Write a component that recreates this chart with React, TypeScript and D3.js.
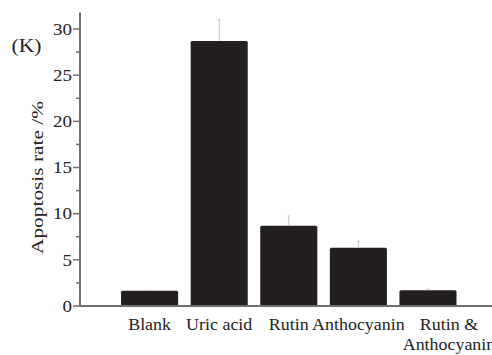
import React from "react"
import * as d3 from "d3"

// values
const categories = ["Blank", "Uric acid", "Rutin", "Anthocyanin", "Rutin &\nAnthocyanin"];
const rates = [1.66, 28.7, 8.7, 6.32, 1.7];
const errors = [0.05, 2.3, 1.05, 0.7, 0.12];
const yTicks = [0, 5, 10, 15, 20, 25, 30];
const yMinorTicks = [2.5, 7.5, 12.5, 17.5, 22.5, 27.5];

const WIDTH = 492, HEIGHT = 355;
const FONT = "'Liberation Serif', 'Times New Roman', serif";
const BAR = "#231f20";
const AXIS = "#6f6f6f";

export default function App() {
	const xScale = d3.scaleLinear().domain([0, 5.92]).range([80, 492]);
	const yScale = d3.scaleLinear().domain([0, 31.8]).range([306, 12.4]);
	const barW = xScale(0.82) - xScale(0);
	const x0 = xScale(0), y0 = yScale(0);

	return (
		<svg width={WIDTH} height={HEIGHT} style={{ position: "absolute", left: 0, top: 0, background: "#fff" }}
			fontFamily={FONT} fill="#222">
			{/* bars */}
			<g className="bars">
				{rates.map((v, i) => (
					<rect key={i} x={xScale(i + 1) - barW / 2} y={yScale(v)} width={barW} height={y0 - yScale(v)}
						rx={1.5} fill={BAR} />
				))}
			</g>
			{/* error bars */}
			<g className="errors" stroke="#c4c4c4" strokeWidth={1}>
				{rates.map((v, i) => {
					const cx = xScale(i + 1), top = yScale(v + errors[i]);
					return (
						<g key={i}>
							<line x1={cx} x2={cx} y1={yScale(v)} y2={top} />
							<line x1={cx - 1.5} x2={cx + 1.5} y1={top} y2={top} />
						</g>
					);
				})}
			</g>
			{/* axes */}
			<g className="y axis" stroke={AXIS}>
				<line x1={x0} x2={x0} y1={yScale.range()[1]} y2={y0 + 1} strokeWidth={2} />
				{yTicks.map(t => <line key={t} x1={x0 - 7} x2={x0} y1={yScale(t)} y2={yScale(t)} strokeWidth={1.5} />)}
				{yMinorTicks.map(t => <line key={t} x1={x0 - 4} x2={x0} y1={yScale(t)} y2={yScale(t)} strokeWidth={1.5} />)}
			</g>
			<line className="x axis" x1={x0 - 1} x2={WIDTH} y1={y0} y2={y0} stroke={AXIS} strokeWidth={2} />
			{yTicks.map(t => (
				<text key={t} transform={`translate(72, ${yScale(t) + 5.8}) scale(1.15, 1)`} textAnchor="end" fontSize={16.5}>{t}</text>
			))}
			{/* category labels */}
			{categories.map((c, i) => {
				const lines = c.split("\n");
				const cx = xScale(i + 1) + (lines.length > 1 ? 21 : 0);
				return lines.map((l, j) => (
					<text key={i + "-" + j} transform={`translate(${cx}, ${330 + j * 20}) scale(1.1, 1)`}
						textAnchor="middle" fontSize={16.3}>{l}</text>
				));
			})}
			<text transform="translate(43, 177.5) rotate(-90) scale(1.22, 1)" textAnchor="middle" fontSize={17.5}>Apoptosis rate /%</text>
			<text transform="translate(11.5, 52) scale(1.2, 1)" fontSize={18}>(K)</text>
		</svg>
	);
}
